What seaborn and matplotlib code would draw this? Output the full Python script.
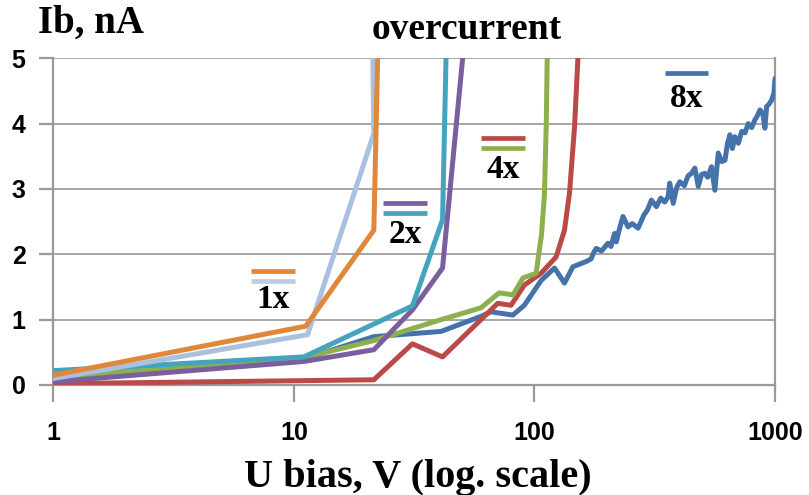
import numpy as np
import pandas as pd
import matplotlib
matplotlib.use("Agg")
import matplotlib.pyplot as plt
import seaborn as sns

# ---- data ----
x_8x = [1, 11, 21.5, 40.9, 59.9, 66.0, 81.3, 90.8, 106.6, 121.2, 133.3, 144.5, 164.2,
        172, 176, 180.6, 190, 202.1, 208, 215.4, 218.9, 226, 233.4, 244.9, 255, 269.7,
        285, 295, 306.4, 321.4, 335, 348, 359.4, 365.1,
        377.3, 390, 401.9, 420, 435, 449.6, 464.4, 479.8, 495, 510.9, 525, 544.5, 562.3,
        580.8, 600, 619.4, 635, 649.4, 665,
        681.3, 703.9, 726.6, 750, 774.4, 800, 825.4, 845, 865.9, 890, 907.8, 923, 945,
        968, 990, 1000]
y_8x = [0.15, 0.40, 0.74, 0.82, 1.05, 1.12, 1.07, 1.22, 1.60, 1.79, 1.56, 1.81, 1.89,
        1.93, 2.02, 2.09, 2.05, 2.17, 2.12, 2.32, 2.19, 2.40, 2.58, 2.42, 2.47, 2.40,
        2.60, 2.68, 2.83, 2.73, 2.86, 2.80, 2.88, 3.09,
        2.78, 3.02, 3.11, 3.05, 3.20, 3.24, 3.32, 3.04, 3.22, 3.24, 3.18, 3.34, 2.98,
        3.55, 3.42, 3.44, 3.70, 3.83, 3.62,
        3.80, 3.70, 3.88, 3.86, 4.00, 3.94, 4.06, 4.12, 4.21, 4.15, 3.93, 4.26, 4.30,
        4.36, 4.47, 4.69]

x_4x_red = [1, 21.5, 31.1, 41.5, 70.4, 79.9, 90.8, 106.6, 123.1, 133.3, 139.9, 146.8, 151.6, 154]
y_4x_red = [0.02, 0.08, 0.63, 0.43, 1.25, 1.22, 1.53, 1.71, 1.96, 2.37, 2.94, 3.95, 5.0, 5.6]

x_4x_green = [1, 11, 21.5, 40.9, 59.9, 71.3, 81.5, 89.7, 101.6, 107, 110, 112, 113, 114]
y_4x_green = [0.12, 0.42, 0.68, 1.00, 1.18, 1.41, 1.38, 1.64, 1.71, 2.30, 2.90, 4.00, 5.0, 5.6]

x_2x_purple = [1, 11, 21.5, 31.1, 41.5, 50.3, 52]
y_2x_purple = [0.05, 0.36, 0.54, 1.15, 1.79, 5.0, 5.6]

x_2x_teal = [1, 11, 31.1, 41.5, 42.9, 43.2]
y_2x_teal = [0.22, 0.43, 1.21, 2.53, 5.0, 5.6]

x_1x_light = [1, 11.4, 21.5, 21.3, 21.3]
y_1x_light = [0.10, 0.77, 3.85, 5.0, 5.6]

x_1x_orange = [1, 11.2, 21.5, 22.3, 22.4]
y_1x_orange = [0.15, 0.90, 2.37, 5.0, 5.6]

x_ticks = [1, 10, 100, 1000]
x_tick_labels = ["1", "10", "100", "1000"]
y_ticks = [0, 1, 2, 3, 4, 5]

series = [
    ("8x", x_8x, y_8x, "#4472AA"),
    ("4x red", x_4x_red, y_4x_red, "#B94A48"),
    ("4x green", x_4x_green, y_4x_green, "#8DB04F"),
    ("2x purple", x_2x_purple, y_2x_purple, "#7B5E9E"),
    ("2x teal", x_2x_teal, y_2x_teal, "#45A3BD"),
    ("1x light", x_1x_light, y_1x_light, "#A9C0DE"),
    ("1x orange", x_1x_orange, y_1x_orange, "#E0883A"),
]

sns.set_theme(style="white")
plt.rcParams["font.family"] = ["Liberation Sans", "DejaVu Sans"]
plt.rcParams["text.color"] = "black"

fig = plt.figure(figsize=(8.09, 4.95), dpi=100)
ax = fig.add_axes([53.3 / 809, 110 / 495, 721.7 / 809, 326.7 / 495])

for i, (name, xs, ys, col) in enumerate(series):
    df = pd.DataFrame({"U": xs, "Ib": ys})
    sns.lineplot(data=df, x="U", y="Ib", ax=ax, color=col, linewidth=3.6,
                 sort=False, estimator=None, zorder=3 + i)

ax.set_xscale("log")
ax.set_xlim(1, 1000)
ax.set_ylim(0, 5)
ax.set_xticks(x_ticks)
ax.set_xticklabels(x_tick_labels)
ax.xaxis.set_minor_locator(matplotlib.ticker.NullLocator())
ax.set_yticks(y_ticks)
ax.set_yticklabels([str(v) for v in y_ticks])
ax.set_xlabel("")
ax.set_ylabel("")

ax.grid(axis="y", color="#A6A6A6", linewidth=1.4)
ax.grid(axis="x", visible=False)
ax.set_axisbelow(True)
for s in ["left", "bottom", "right"]:
    ax.spines[s].set_visible(True)
    ax.spines[s].set_color("#9A9A9A")
    ax.spines[s].set_linewidth(1.6)
ax.spines["top"].set_visible(False)

ax.tick_params(axis="both", which="major", direction="out", color="#9A9A9A",
               width=1.6, labelsize=18)
ax.tick_params(axis="y", length=10, pad=10, left=True)
ax.tick_params(axis="x", length=12, pad=14, bottom=True)
for lab in ax.get_xticklabels() + ax.get_yticklabels():
    lab.set_fontweight("bold")
    lab.set_color("black")

# legend-like annotations
serif = ["Liberation Serif", "DejaVu Serif"]
def seg(x0, x1, y, col):
    ax.plot([x0, x1], [y, y], transform=ax.transAxes, color=col, linewidth=3.4,
            solid_capstyle="butt", clip_on=False, zorder=20)

seg(0.2735, 0.335, 0.349, "#E0883A")
seg(0.2735, 0.335, 0.318, "#B9CDE5")
ax.text(0.3043, 0.262, "1x", transform=ax.transAxes, ha="center", va="center",
        fontsize=24, fontweight="bold", family=serif, color="black", zorder=20)

seg(0.4564, 0.5174, 0.556, "#7B5E9E")
seg(0.4564, 0.5174, 0.5256, "#45A3BD")
ax.text(0.4873, 0.461, "2x", transform=ax.transAxes, ha="center", va="center",
        fontsize=24, fontweight="bold", family=serif, color="black", zorder=20)

seg(0.5922, 0.6536, 0.757, "#B94A48")
seg(0.5922, 0.6536, 0.7264, "#8DB04F")
ax.text(0.6231, 0.660, "4x", transform=ax.transAxes, ha="center", va="center",
        fontsize=24, fontweight="bold", family=serif, color="black", zorder=20)

seg(0.8476, 0.9076, 0.954, "#4472AA")
ax.text(0.878, 0.876, "8x", transform=ax.transAxes, ha="center", va="center",
        fontsize=24, fontweight="bold", family=serif, color="black", zorder=20)

fig.text(38 / 809, 1 - 33 / 495, "Ib, nA", ha="left", va="baseline",
         fontsize=28, fontweight="bold", family=serif, color="black")
fig.text(467 / 809, 1 - 39 / 495, "overcurrent", ha="center", va="baseline",
         fontsize=27, fontweight="bold", family=serif, color="black")
fig.text(418 / 809, 1 - 487 / 495, "U bias, V (log. scale)", ha="center", va="baseline",
         fontsize=29, fontweight="bold", family=serif, color="black")

fig.savefig("out.png", dpi=100)
